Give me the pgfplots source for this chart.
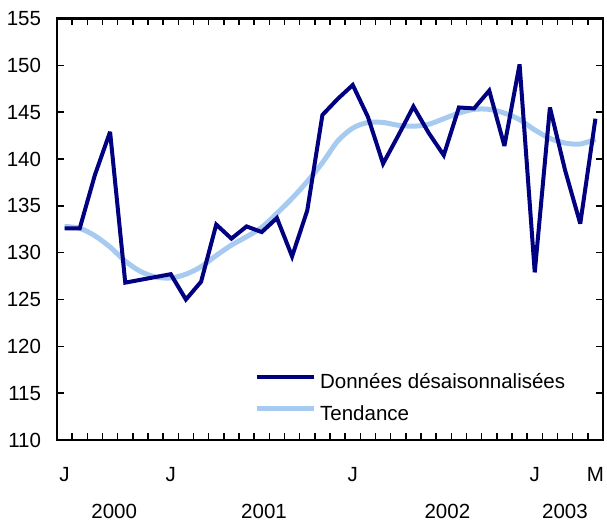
\documentclass[border=0pt]{standalone}
\usepackage{fontspec}
\setmainfont{Liberation Sans}
\usepackage{pgfplots}
\pgfplotsset{compat=1.18}
\definecolor{navyline}{RGB}{0,0,128}
\definecolor{trendblue}{RGB}{166,202,240}
\pgfplotstableread{
i val
0 132.6
1 132.6
2 138.3
3 142.9
4 126.8
5 127.1
6 127.4
7 127.7
8 125.0
9 126.9
10 133.0
11 131.5
12 132.8
13 132.2
14 133.7
15 129.6
16 134.5
17 144.7
18 146.4
19 147.9
20 144.5
21 139.5
22 142.5
23 145.6
24 142.8
25 140.4
26 145.5
27 145.4
28 147.3
29 141.4
30 150.1
31 127.9
32 145.5
33 138.8
34 133.1
35 144.3
}\donnees
\pgfplotstableread{
i val
0 132.8
1 132.6
2 131.8
3 130.6
4 129.1
5 128.0
6 127.4
7 127.3
8 127.7
9 128.5
10 129.7
11 130.8
12 131.7
13 132.7
14 134.2
15 135.8
16 137.6
17 139.6
18 141.9
19 143.3
20 143.9
21 143.9
22 143.6
23 143.5
24 143.7
25 144.3
26 144.9
27 145.3
28 145.3
29 144.9
30 144.2
31 143.1
32 142.2
33 141.7
34 141.6
35 142.1
}\tendance
\begin{document}
\fontsize{20.5pt}{24pt}\selectfont
\begin{tikzpicture}
\useasboundingbox (-57pt,-81pt) rectangle (550pt,440pt);
\begin{axis}[
  at={(0pt,0pt)}, anchor=south west,
  scale only axis, width=546pt, height=421.5pt,
  xmin=-0.5, xmax=35.5, ymin=110, ymax=155,
  ytick={110,115,...,155},
  xtick={0,7,19,31,35}, xticklabels={J,J,J,J,M},
  minor xtick={-0.5,0.5,...,35.5},
  major x tick style={draw=none},
  tick align=inside,
  major tick length=7pt, minor tick length=7pt,
  axis line style={line width=2.5pt},
  tick style={line width=1.5pt, black},
  tick label style={font=\fontsize{20.5pt}{24pt}\selectfont},
  yticklabel style={xshift=-9pt},
  xticklabel style={yshift=-20pt},
  /pgf/number format/assume math mode=true,
  clip=false,
  reverse legend,
  legend cell align=left,
  legend style={at={(0.3607,0.096)}, anchor=west, draw=none, fill=none,
    inner sep=0pt, row sep=14pt, column sep=4pt,
    font=\fontsize{20.5pt}{24pt}\selectfont,
    nodes={inner sep=0pt, text height=13pt, text depth=4pt}},
  legend image code/.code={\draw[#1] (0pt,7pt) -- (57pt,7pt);},
]
\addplot[trendblue, line width=5pt, smooth] table[x=i, y=val] {\tendance};
\addlegendentry{Tendance}
\addplot[navyline, line width=4pt, miter limit=4] table[x=i, y=val] {\donnees};
\addlegendentry{Données désaisonnalisées}
\node[anchor=center, inner sep=0pt, yshift=-71pt] at (axis cs:3.27,110) {2000};
\node[anchor=center, inner sep=0pt, yshift=-71pt] at (axis cs:13.15,110) {2001};
\node[anchor=center, inner sep=0pt, yshift=-71pt] at (axis cs:25.24,110) {2002};
\node[anchor=center, inner sep=0pt, yshift=-71pt] at (axis cs:32.99,110) {2003};
\end{axis}
\end{tikzpicture}
\end{document}
